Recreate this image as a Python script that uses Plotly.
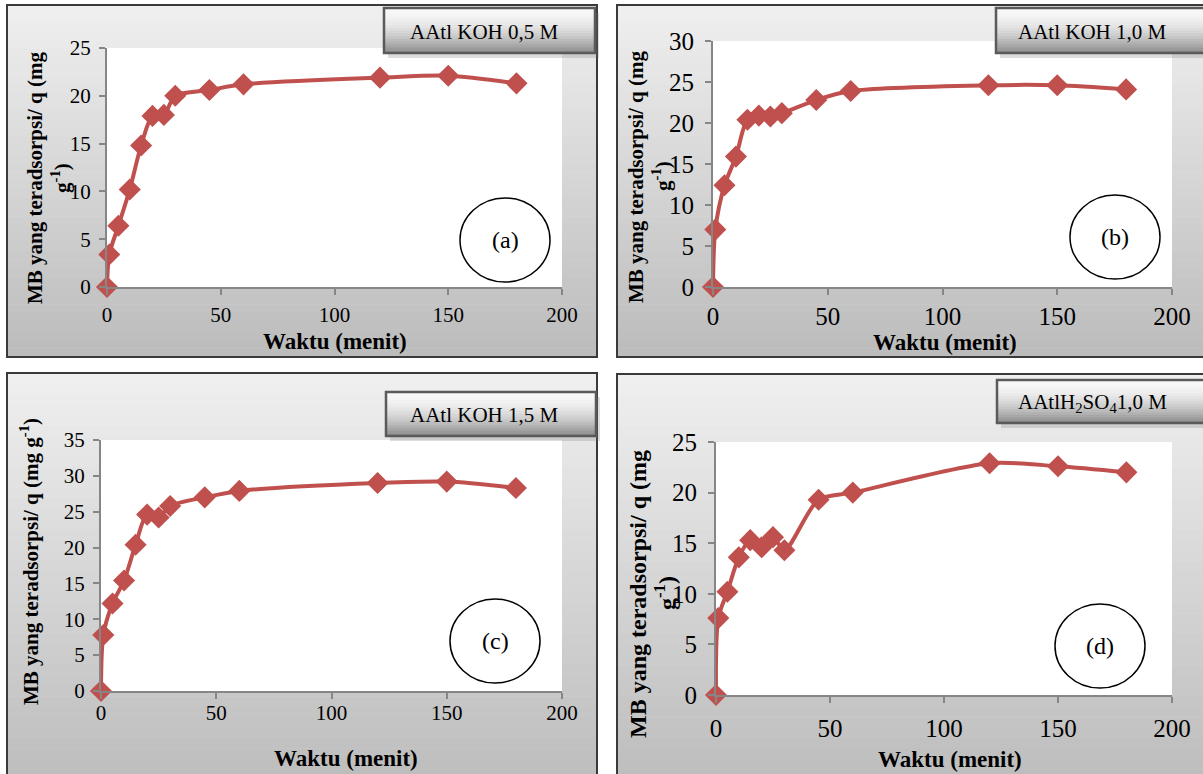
import plotly.graph_objects as go

W, H = 1203, 774

# ---------------- data ----------------
time_min = [0, 1, 5, 10, 15, 20, 25, 30, 45, 60, 120, 150, 180]
q_koh_05 = [0, 3.4, 6.4, 10.2, 14.8, 17.9, 18.0, 20.0, 20.6, 21.2, 21.9, 22.1, 21.3]
q_koh_10 = [0, 7.0, 12.4, 15.9, 20.4, 20.9, 20.8, 21.2, 22.8, 23.9, 24.6, 24.6, 24.1]
q_koh_15 = [0, 7.8, 12.2, 15.4, 20.4, 24.6, 24.2, 25.8, 27.0, 27.9, 29.0, 29.2, 28.3]
q_h2so4_10 = [0, 7.6, 10.2, 13.6, 15.3, 14.6, 15.6, 14.3, 19.3, 20.0, 22.9, 22.6, 22.0]

x_ticks = [0, 50, 100, 150, 200]
y_ticks_a = [0, 5, 10, 15, 20, 25]
y_ticks_b = [0, 5, 10, 15, 20, 25, 30]
y_ticks_c = [0, 5, 10, 15, 20, 25, 30, 35]
y_ticks_d = [0, 5, 10, 15, 20, 25]

series_labels = ["AAtl KOH 0,5 M", "AAtl KOH 1,0 M", "AAtl KOH 1,5 M",
                 "AAtlH<sub>2</sub>SO<sub>4</sub>1,0 M"]
panel_tags = ["(a)", "(b)", "(c)", "(d)"]
x_title = "Waktu (menit)"
y_title_line1 = "MB yang teradsorpsi/ q (mg"
y_title_line2 = "g<sup>-1</sup>)"
y_title_full = "MB yang teradsorpsi/ q (mg g<sup>-1</sup>)"

# ---------------- layout specs (pixels) ----------------
panels = [
    dict(y=q_koh_05, yt=y_ticks_a, plot=(107, 562, 48, 287), box=(7, 597, 5, 357),
         lbox=(384, 595, 8, 53), ltxt=(484, 32), circ=(505, 240), xtitle=(335, 341),
         ytitles=[(35, 178, y_title_line1), (60, 178, y_title_line2)], tf=21, ytf=21,
         xstand=2, ystand=4),
    dict(y=q_koh_10, yt=y_ticks_b, plot=(713, 1172, 41, 287), box=(617, 1215, 5, 357),
         lbox=(996, 1215, 8, 53), ltxt=(1092, 32), circ=(1115, 237), xtitle=(945, 342),
         ytitles=[(636, 177, y_title_line1), (661, 176, y_title_line2)], tf=25, ytf=21,
         xstand=0, ystand=6),
    dict(y=q_koh_15, yt=y_ticks_c, plot=(101, 562, 440, 691), box=(7, 597, 373, 790),
         lbox=(386, 596, 392, 436), ltxt=(484, 415), circ=(495, 641), xtitle=(346, 758),
         ytitles=[(29, 562, y_title_full)], tf=21, ytf=21, xstand=-4, ystand=4),
    dict(y=q_h2so4_10, yt=y_ticks_d, plot=(716, 1172, 442, 695), box=(617, 1215, 374, 790),
         lbox=(997, 1215, 380, 423), ltxt=(1092, 403), circ=(1100, 646), xtitle=(950, 759),
         ytitles=[(638, 594, y_title_line1), (665, 593, y_title_line2)], tf=25, ytf=24,
         xstand=4, ystand=6),
]

RED = "#C0504D"
AXC = "#868686"
SERIF = "Liberation Serif, Times New Roman, serif"


def px(x):
    return x / W


def py(y):
    return 1 - y / H


def lerp_hex(c1, c2, t):
    a = [int(c1[i:i + 2], 16) for i in (1, 3, 5)]
    b = [int(c2[i:i + 2], 16) for i in (1, 3, 5)]
    return "#" + "".join("%02x" % round(a[k] + (b[k] - a[k]) * t) for k in range(3))


fig = go.Figure()
shapes = []
annotations = []

for i, p in enumerate(panels):
    n = "" if i == 0 else str(i + 1)
    xa, ya = "x" + n, "y" + n
    x0, x1, y0, y1 = p["plot"]
    fig.add_trace(go.Scatter(
        x=time_min, y=p["y"], xaxis=xa, yaxis=ya, mode="lines+markers",
        line=dict(color=RED, width=4, shape="spline", smoothing=0.8),
        marker=dict(symbol="diamond", size=17, color=RED),
        cliponaxis=False, showlegend=False, hoverinfo="skip"))
    fig.layout["xaxis" + n] = dict(
        domain=[px(x0), px(x1)], range=[0, 200], anchor=ya, tickvals=x_ticks,
        showline=True, linecolor=AXC, linewidth=2, ticks="outside", ticklen=6,
        tickwidth=2, tickcolor=AXC, showgrid=False, zeroline=False, fixedrange=True,
        automargin=False,
        tickfont=dict(family=SERIF, size=p["tf"], color="black"),
        ticklabelstandoff=p["xstand"])
    fig.layout["yaxis" + n] = dict(
        domain=[py(y1), py(y0)], range=[0, p["yt"][-1]], anchor=xa, tickvals=p["yt"],
        showline=True, linecolor=AXC, linewidth=2, ticks="outside", ticklen=6,
        tickwidth=2, tickcolor=AXC, showgrid=False, zeroline=False, fixedrange=True,
        automargin=False,
        tickfont=dict(family=SERIF, size=p["tf"], color="black"),
        ticklabelstandoff=p["ystand"])

    # panel background gradient
    bx0, bx1, by0, by1 = p["box"]
    nb = 40
    for k in range(nb):
        t = k / (nb - 1)
        ya0 = by0 + (by1 - by0) * k / nb
        ya1 = by0 + (by1 - by0) * (k + 1) / nb + 0.5
        shapes.append(dict(type="rect", xref="paper", yref="paper", layer="below",
                           x0=px(bx0), x1=px(bx1), y0=py(ya0), y1=py(ya1),
                           line=dict(width=0), fillcolor=lerp_hex("#efefef", "#bcbcbc", t)))
    # white plot area
    shapes.append(dict(type="rect", xref=xa + " domain", yref=ya + " domain", layer="below",
                       x0=0, x1=1, y0=0, y1=1, line=dict(width=0), fillcolor="white"))
    # panel border
    shapes.append(dict(type="rect", xref="paper", yref="paper", layer="above",
                       x0=px(bx0), x1=px(bx1), y0=py(by0), y1=py(by1),
                       line=dict(color="#3a3a3a", width=2), fillcolor="rgba(0,0,0,0)"))

    # series label box (shadow + gradient + border)
    lx0, lx1, ly0, ly1 = p["lbox"]
    shapes.append(dict(type="rect", xref="paper", yref="paper", layer="above",
                       x0=px(lx0 + 4), x1=px(lx1 + 4), y0=py(ly0 + 5), y1=py(ly1 + 5),
                       line=dict(width=0), fillcolor="rgba(120,120,120,0.25)"))
    nl = 16
    for k in range(nl):
        t = k / (nl - 1)
        c = lerp_hex("#f8f8f8", "#8e8e8e", t ** 1.8)
        yy0 = ly0 + (ly1 - ly0) * k / nl
        yy1 = ly0 + (ly1 - ly0) * (k + 1) / nl + 0.5
        shapes.append(dict(type="rect", xref="paper", yref="paper", layer="above",
                           x0=px(lx0), x1=px(lx1), y0=py(yy0), y1=py(yy1),
                           line=dict(width=0), fillcolor=c))
    shapes.append(dict(type="rect", xref="paper", yref="paper", layer="above",
                       x0=px(lx0), x1=px(lx1), y0=py(ly0), y1=py(ly1),
                       line=dict(color="#5a5a5a", width=2.5), fillcolor="rgba(0,0,0,0)"))
    annotations.append(dict(xref="paper", yref="paper", x=px(p["ltxt"][0]), y=py(p["ltxt"][1]),
                            text=series_labels[i], showarrow=False, xanchor="center",
                            yanchor="middle", font=dict(family=SERIF, size=21, color="black")))

    # circle tag
    cx, cy = p["circ"]
    shapes.append(dict(type="circle", xref="paper", yref="paper", layer="above",
                       x0=px(cx - 45), x1=px(cx + 45), y0=py(cy - 42), y1=py(cy + 42),
                       line=dict(color="black", width=1.5), fillcolor="rgba(0,0,0,0)"))
    annotations.append(dict(xref="paper", yref="paper", x=px(cx), y=py(cy), text=panel_tags[i],
                            showarrow=False, xanchor="center", yanchor="middle",
                            font=dict(family=SERIF, size=24, color="black")))

    # axis titles
    annotations.append(dict(xref="paper", yref="paper", x=px(p["xtitle"][0]), y=py(p["xtitle"][1]),
                            text="<b>" + x_title + "</b>", showarrow=False, xanchor="center",
                            yanchor="middle", font=dict(family=SERIF, size=23, color="black")))
    for (tx, ty, txt) in p["ytitles"]:
        annotations.append(dict(xref="paper", yref="paper", x=px(tx), y=py(ty),
                                text="<b>" + txt + "</b>", showarrow=False, textangle=-90,
                                xanchor="center", yanchor="middle",
                                font=dict(family=SERIF, size=p["ytf"], color="black")))

fig.update_layout(width=W, height=H, margin=dict(l=0, r=0, t=0, b=0),
                  paper_bgcolor="white", plot_bgcolor="white",
                  shapes=shapes, annotations=annotations, showlegend=False)

fig.write_html("out.html", config={"displayModeBar": False})
